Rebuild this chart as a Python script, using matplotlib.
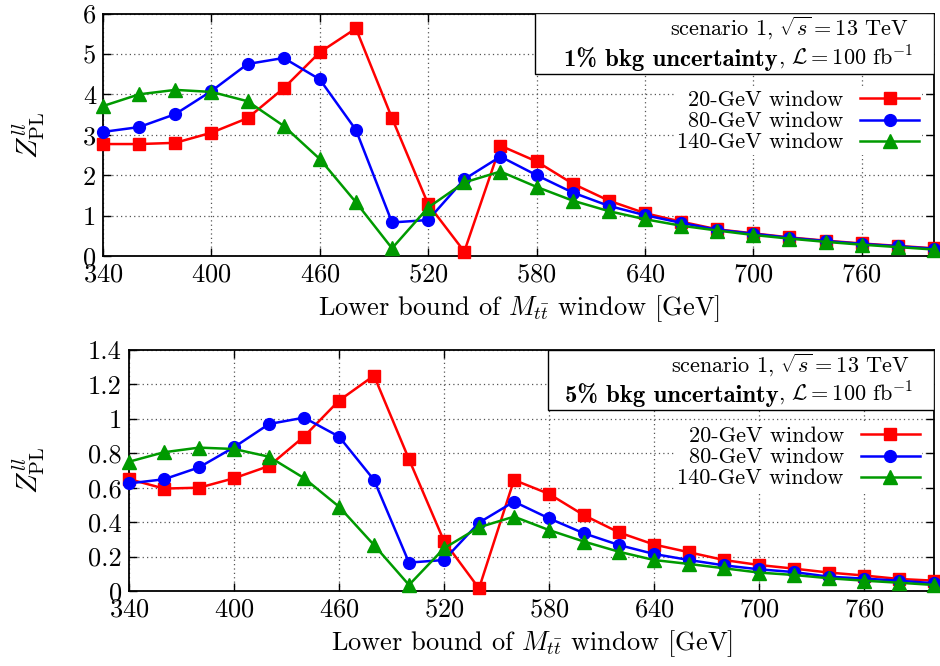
import matplotlib
matplotlib.use("Agg")
import matplotlib.pyplot as plt
from matplotlib.patches import Rectangle
from matplotlib.ticker import FormatStrFormatter

plt.rcParams['font.family'] = ['cmr10']
plt.rcParams['mathtext.fontset'] = 'cm'
plt.rcParams['axes.formatter.use_mathtext'] = True

mass = [340, 360, 380, 400, 420, 440, 460, 480, 500, 520, 540, 560,
        580, 600, 620, 640, 660, 680, 700, 720, 740, 760, 780, 800]

# 1% bkg uncertainty
top_20 = [2.77, 2.77, 2.80, 3.05, 3.41, 4.15, 5.04, 5.63, 3.41, 1.28, 0.11, 2.73,
          2.34, 1.79, 1.37, 1.06, 0.85, 0.66, 0.56, 0.46, 0.38, 0.31, 0.25, 0.19]
top_80 = [3.07, 3.19, 3.51, 4.08, 4.75, 4.90, 4.37, 3.12, 0.83, 0.89, 1.90, 2.46,
          2.00, 1.57, 1.24, 1.01, 0.82, 0.65, 0.55, 0.45, 0.37, 0.30, 0.24, 0.18]
top_140 = [3.71, 4.00, 4.11, 4.06, 3.83, 3.22, 2.40, 1.33, 0.19, 1.20, 1.82, 2.09,
           1.71, 1.37, 1.11, 0.91, 0.75, 0.63, 0.52, 0.43, 0.35, 0.28, 0.22, 0.16]

# 5% bkg uncertainty
bot_20 = [0.65, 0.595, 0.60, 0.655, 0.726, 0.897, 1.106, 1.251, 0.765, 0.29, 0.015, 0.645,
          0.564, 0.44, 0.34, 0.27, 0.225, 0.18, 0.151, 0.13, 0.107, 0.09, 0.07, 0.06]
bot_80 = [0.625, 0.649, 0.718, 0.835, 0.97, 1.007, 0.897, 0.645, 0.165, 0.18, 0.397, 0.519,
          0.422, 0.335, 0.267, 0.215, 0.18, 0.149, 0.126, 0.11, 0.083, 0.072, 0.06, 0.045]
bot_140 = [0.751, 0.806, 0.833, 0.825, 0.78, 0.656, 0.49, 0.267, 0.035, 0.248, 0.37, 0.432,
           0.354, 0.287, 0.228, 0.18, 0.157, 0.132, 0.107, 0.093, 0.074, 0.06, 0.048, 0.035]

labels = ['20-GeV window', '80-GeV window', '140-GeV window']
colors = ['#ff0000', '#0000ff', '#009a00']
markers = ['s', 'o', '^']
msizes = [8.5, 8.5, 9.5]
xticks = [340, 400, 460, 520, 580, 640, 700, 760]
bold_parts = ['1% bkg uncertainty', '5% bkg uncertainty']

fig = plt.figure(figsize=(9.4, 6.66), dpi=100)
ax1 = fig.add_axes([103/940, 1-256/666, (934-103)/940, (256-13.5)/666])
ax2 = fig.add_axes([129/940, 1-591/666, (934-129)/940, (591-350)/666])

panels = [
    (ax1, [top_20, top_80, top_140], (0, 6), [0, 1, 2, 3, 4, 5, 6], bold_parts[0], 0.52, 0.751),
    (ax2, [bot_20, bot_80, bot_140], (0, 1.4), [0, 0.2, 0.4, 0.6, 0.8, 1.0, 1.2, 1.4], bold_parts[1], 0.52, 0.751),
]

FS = 16
for ax, series, ylim, yticks, bold, bx, by in panels:
    for ys, lab, c, m, ms in zip(series, labels, colors, markers, msizes):
        ax.plot(mass, ys, color=c, marker=m, ms=ms, lw=1.8, label=lab, clip_on=False, zorder=3)
    ax.set_xlim(340, 800)
    ax.set_ylim(*ylim)
    ax.set_xticks(xticks)
    ax.set_yticks(yticks)
    ax.yaxis.set_major_formatter(FormatStrFormatter('%g'))
    ax.grid(True, color='#555555', linestyle=(0, (1, 2.5)), lw=0.9)
    ax.tick_params(direction='in', top=True, right=True, length=6, width=1.0, labelsize=19, pad=5)
    for sp in ax.spines.values():
        sp.set_linewidth(1.3)
    ax.set_xlabel(r'Lower bound of $M_{t\bar{t}}$ window [GeV]', fontsize=19, labelpad=5)
    ax.set_ylabel(r'$Z^{ll}_{\mathrm{PL}}$', fontsize=21)
    rect = Rectangle((bx, by), 1 - bx, 1 - by, transform=ax.transAxes, facecolor='white',
                     edgecolor='black', lw=1.0, zorder=5)
    ax.add_patch(rect)
    ax.text(0.97, by + (1 - by) * 0.63, r'scenario 1, $\sqrt{s} = 13$ TeV', transform=ax.transAxes,
            ha='right', va='baseline', fontsize=FS, zorder=6)
    rest = ax.text(0.975, by + (1 - by) * 0.16, r', $\mathcal{L} = 100$ fb$^{-1}$', transform=ax.transAxes,
                   ha='right', va='baseline', fontsize=FS, zorder=6)
    ax.annotate(bold, xy=(0, 0), xycoords=rest, ha='right', va='bottom', fontsize=17.8,
                family='cmb10', zorder=6, annotation_clip=False)
    leg = ax.legend(loc='upper right', bbox_to_anchor=(0.985, by - 0.06), frameon=True,
                    markerfirst=False, fontsize=FS, handlelength=2.65, borderpad=0.1,
                    labelspacing=0.07, handletextpad=0.77, borderaxespad=0.0)
    leg.get_frame().set_edgecolor('none')
    leg.get_frame().set_facecolor('white')
    leg.get_frame().set_alpha(1)
    leg.set_zorder(4)

ax1.yaxis.set_label_coords((47 - 103) / 831, 0.5)
ax2.yaxis.set_label_coords((47 - 129) / 805, 0.5)

fig.savefig('out.png', dpi=100)
